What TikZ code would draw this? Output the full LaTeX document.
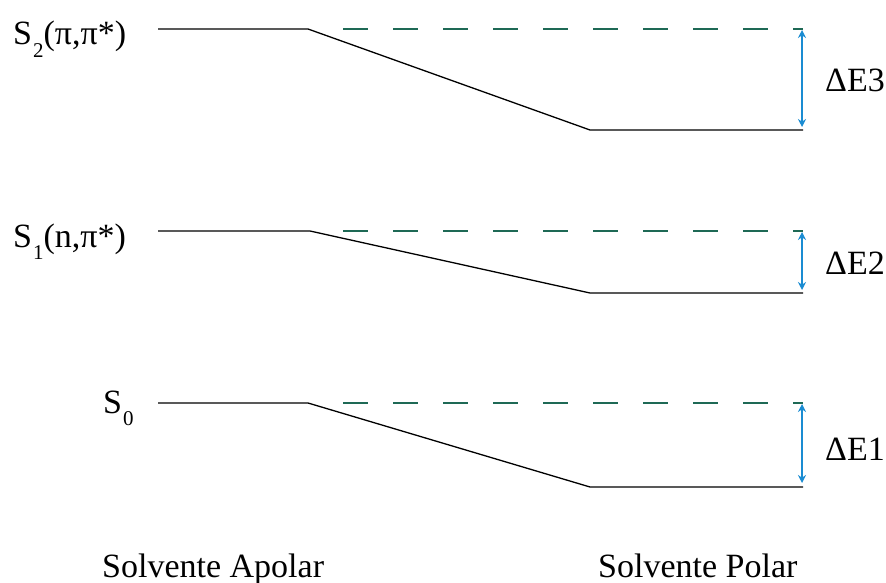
\documentclass[tikz,border=0pt]{standalone}
\usepackage{fontspec}
\setmainfont{Liberation Serif}
\usetikzlibrary{arrows.meta}
\definecolor{dashgreen}{RGB}{30,105,85}
\definecolor{arrblue}{RGB}{26,140,210}
\tikzset{
  lbl/.style={inner sep=0pt, font=\fontsize{34}{40}\selectfont},
  level/.style={line width=1.3pt, black},
  ref/.style={line width=1.2pt, dashgreen, dash pattern=on 25pt off 25pt},
  gap/.style={line width=1.3pt, arrblue, {Stealth[length=8pt,width=8pt]}-{Stealth[length=8pt,width=8pt]}}
}
\newcommand{\mysub}[1]{\hspace{1pt}\raisebox{-0.38em}{\fontsize{21}{21}\selectfont #1}}
\begin{document}
\begin{tikzpicture}[x=1pt,y=-1pt]
\useasboundingbox (0,0) rectangle (886,583);
% S2
\coordinate (a2l) at (158,29); \coordinate (a2r) at (308,29);
\coordinate (b2l) at (590,130); \coordinate (b2r) at (803,130);
\coordinate (d2s) at (343,29); \coordinate (d2e) at (803,29);
\coordinate (g2t) at (802,30); \coordinate (g2b) at (802,127);
% S1
\coordinate (a1l) at (158,231); \coordinate (a1r) at (310,231);
\coordinate (b1l) at (590,293); \coordinate (b1r) at (803,293);
\coordinate (d1s) at (343,231); \coordinate (d1e) at (803,231);
\coordinate (g1t) at (802,232); \coordinate (g1b) at (802,290);
% S0
\coordinate (a0l) at (158,403); \coordinate (a0r) at (308,403);
\coordinate (b0l) at (590,487); \coordinate (b0r) at (803,487);
\coordinate (d0s) at (343,403); \coordinate (d0e) at (803,403);
\coordinate (g0t) at (802,404); \coordinate (g0b) at (802,483);

\draw[level] (a2l) -- (a2r) -- (b2l) -- (b2r);
\draw[level] (a1l) -- (a1r) -- (b1l) -- (b1r);
\draw[level] (a0l) -- (a0r) -- (b0l) -- (b0r);
\draw[ref] (d2s) -- (d2e);
\draw[ref] (d1s) -- (d1e);
\draw[ref] (d0s) -- (d0e);
\draw[gap] (g2t) -- (g2b);
\draw[gap] (g1t) -- (g1b);
\draw[gap] (g0t) -- (g0b);

\node[lbl, anchor=base west] (s2) at (13,45) {S\mysub{2}(π,π*)};
\node[lbl, anchor=base west] (s1) at (13,247) {S\mysub{1}(n,π*)};
\node[lbl, anchor=base west] (s0) at (103,413) {S\mysub{0}};
\node[lbl, anchor=base west] (e3) at (825,92) {ΔE3};
\node[lbl, anchor=base west] (e2) at (825,274) {ΔE2};
\node[lbl, anchor=base west] (e1) at (825,460) {ΔE1};
\node[lbl, anchor=base west] (sa) at (102,577) {Solvente Apolar};
\node[lbl, anchor=base west] (sp) at (598,577) {Solvente Polar};
\end{tikzpicture}
\end{document}
